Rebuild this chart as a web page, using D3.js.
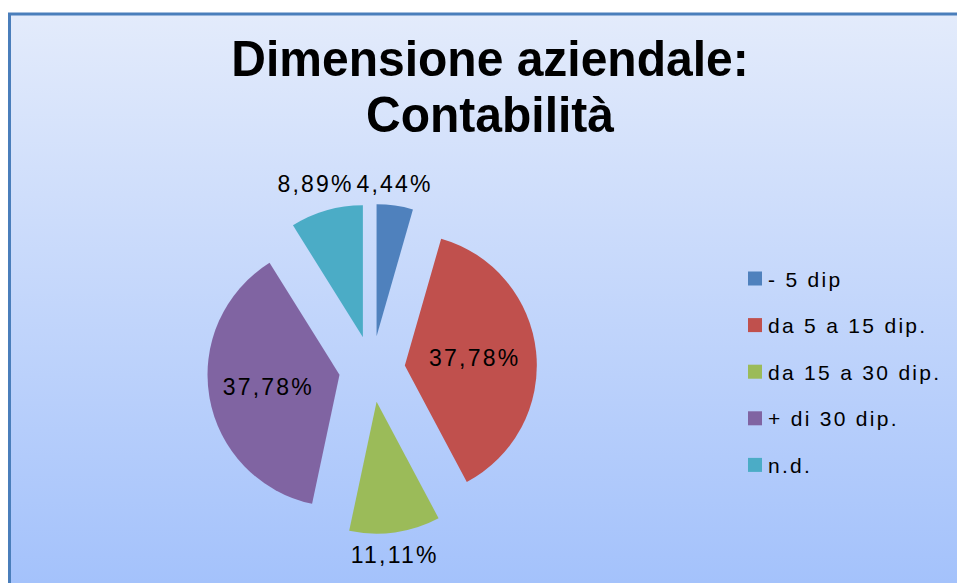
<html>
<head>
<meta charset="utf-8">
<script src="https://d3js.org/d3.v7.min.js"></script>
<style>
    body { margin: 0; background: white; }
    text { font-family: "Liberation Sans", Arial, sans-serif; fill: black; }
</style>
</head>
<body>
<script>
    // chart data
    let categories = ["- 5 dip", "da 5 a 15 dip.", "da 15 a 30 dip.", "+ di 30 dip.", "n.d."];
    let values = [4.44, 37.78, 11.11, 37.78, 8.89];
    let colors = ["#4f81bd", "#c0504d", "#9bbb59", "#8064a2", "#4bacc6"];
    let labelInside = [false, true, false, true, false];
    let titleLines = ["Dimensione aziendale:", "Contabilità"];

    var width = 957, height = 583;
    var cx = 372, cy = 369, radius = 132, explode = 33;

    let svg = d3.select("body").append("svg")
        .attr("width", width)
        .attr("height", height);

    // background gradient
    let grad = svg.append("defs").append("linearGradient")
        .attr("id", "bg")
        .attr("gradientUnits", "userSpaceOnUse")
        .attr("x1", 0).attr("y1", 14)
        .attr("x2", 0).attr("y2", 583);
    grad.append("stop").attr("offset", "0%").attr("stop-color", "#e3ebfb");
    grad.append("stop").attr("offset", "100%").attr("stop-color", "#a4c2fb");

    svg.append("rect")
        .attr("x", 9.5)
        .attr("y", 14)
        .attr("width", 1000)
        .attr("height", 620)
        .attr("fill", "url(#bg)")
        .attr("stroke", "#4a7ebb")
        .attr("stroke-width", 3);

    // title
    svg.selectAll(".title")
        .data(titleLines)
        .enter()
        .append("text")
        .attr("class", "title")
        .attr("transform", (d, i) => "translate(490," + (76 + i * 56) + ") scale(1,1.05)")
        .attr("text-anchor", "middle")
        .style("font-size", "48px")
        .style("font-weight", "bold")
        .text(d => d);

    let data = values.map((v, i) => ({name: categories[i], value: v, color: colors[i], inside: labelInside[i]}));

    let pie = d3.pie()
        .sort(null)
        .value(d => d.value);

    let arc = d3.arc()
        .innerRadius(0)
        .outerRadius(radius);

    let arcs = pie(data);

    let g = svg.append("g")
        .attr("transform", "translate(" + cx + "," + cy + ")");

    function midAngle(d) { return (d.startAngle + d.endAngle) / 2; }

    let slices = g.selectAll(".slice")
        .data(arcs)
        .enter()
        .append("g")
        .attr("class", "slice")
        .attr("transform", function(d) {
            let a = midAngle(d);
            return "translate(" + (Math.sin(a) * explode) + "," + (-Math.cos(a) * explode) + ")";
        });

    slices.append("path")
        .attr("d", arc)
        .attr("fill", d => d.data.color);

    let fmt = v => v.toFixed(2).replace(".", ",") + "%";

    slices.append("text")
        .style("font-size", "23px")
        .style("letter-spacing", "2.2px")
        .attr("text-anchor", "middle")
        .attr("dominant-baseline", "central")
        .text(d => fmt(d.data.value))
        .each(function(d) {
            let a = midAngle(d);
            let ux = Math.sin(a), uy = -Math.cos(a);
            let dist, dx = -1;
            if (d.data.inside) {
                dist = radius * 0.54;
            } else {
                let bb = this.getBBox();
                dist = radius + 7 + (bb.width / 2) * Math.abs(ux) + (bb.height / 2 - 3) * Math.abs(uy);
                dx = -3.5;
            }
            d3.select(this)
                .attr("x", ux * dist + dx)
                .attr("y", uy * dist);
        });

    // legend
    let legend = svg.selectAll(".legend")
        .data(data)
        .enter()
        .append("g")
        .attr("class", "legend")
        .attr("transform", (d, i) => "translate(748," + (278.5 + i * 46.6) + ")");

    legend.append("rect")
        .attr("x", 0)
        .attr("y", -7)
        .attr("width", 14)
        .attr("height", 14)
        .attr("fill", d => d.color);

    legend.append("text")
        .attr("x", 20)
        .attr("y", 8)
        .style("font-size", "21px")
        .style("letter-spacing", "2.3px")
        .text(d => d.name);
</script>
</body>
</html>
